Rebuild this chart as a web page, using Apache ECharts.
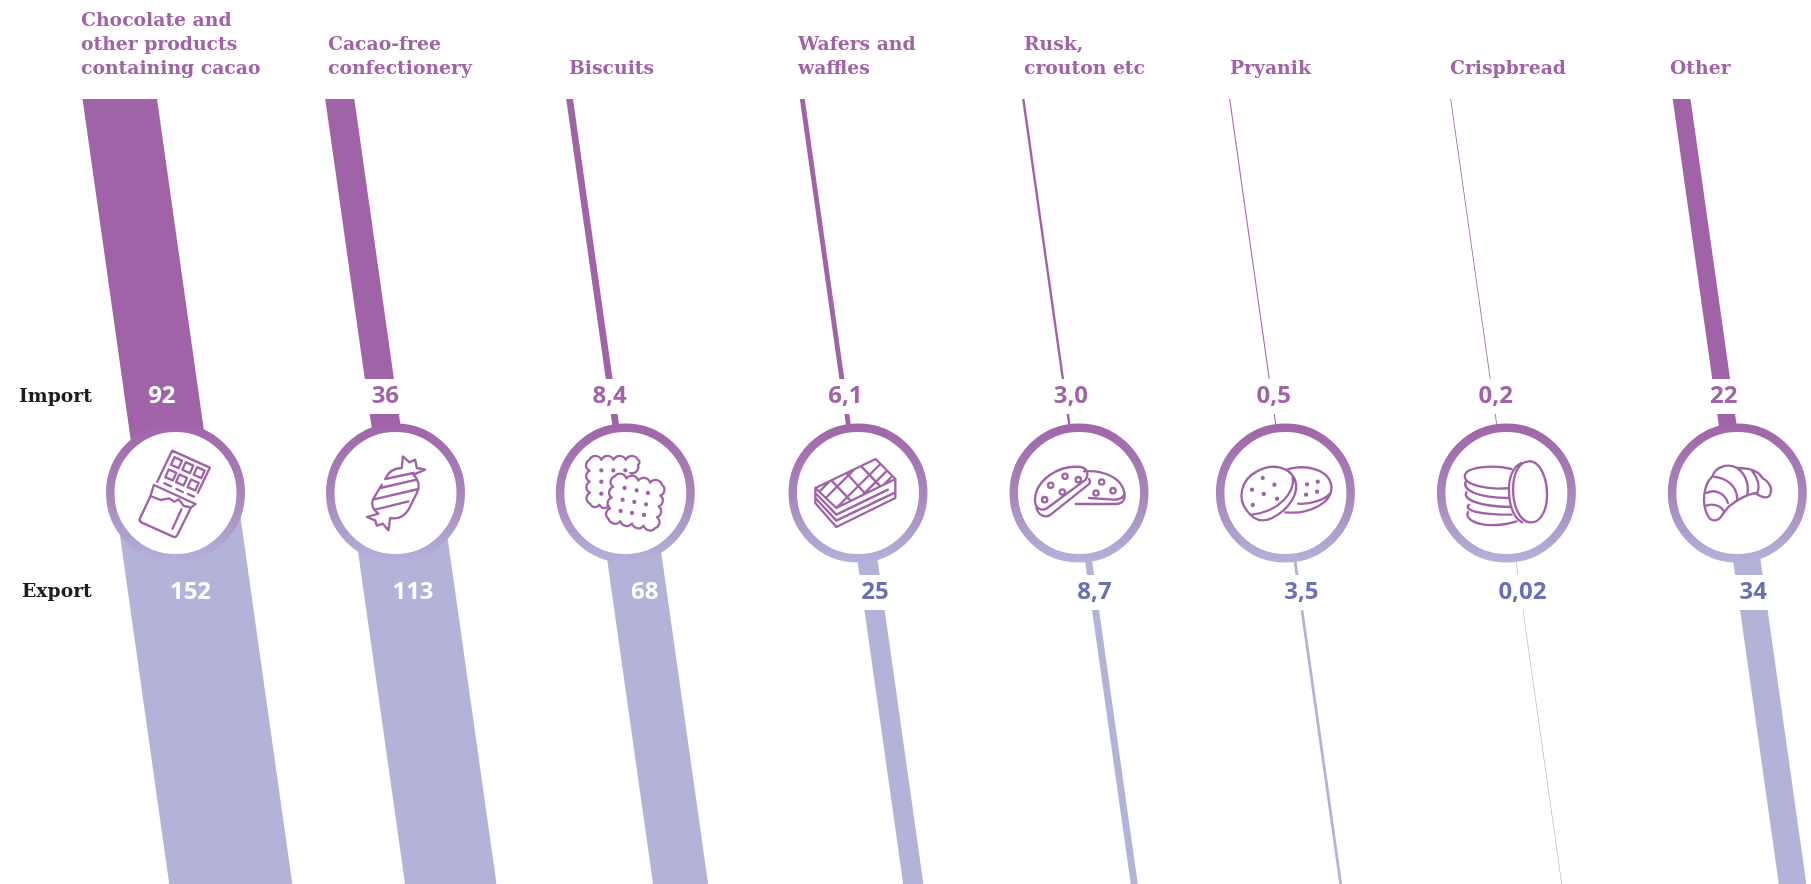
<!DOCTYPE html>
<html>
<head>
<meta charset="utf-8">
<style>html,body{margin:0;padding:0;background:#fff}#c{width:1811px;height:884px}</style>
<script src="https://cdn.jsdelivr.net/npm/echarts@6/dist/echarts.min.js"></script>
</head>
<body>
<div id="c"></div>
<script>
// ---- data ----
const categories = ['Chocolate and\nother products\ncontaining cacao','Cacao-free\nconfectionery','Biscuits','Wafers and\nwaffles','Rusk,\ncrouton etc','Pryanik','Crispbread','Other'];
const importValues = [92,36,8.4,6.1,3.0,0.5,0.2,22];
const exportValues = [152,113,68,25,8.7,3.5,0.02,34];
const importLabels = ['92','36','8,4','6,1','3,0','0,5','0,2','22'];
const exportLabels = ['152','113','68','25','8,7','3,5','0,02','34'];
const rowNames = ['Import','Export'];

// ---- layout ----
const W = 1811, H = 884, PX_PER_UNIT = 0.81;
const centerX = [175.5,395.5,625.3,858,1079,1285.4,1506.4,1737.3];
const headingX = [81,328,569,798,1024,1230,1450,1670];
const importNudge = [0,3.5,-2,1,5.5,2,3,0];
const exportNudge = [1,3.5,5.5,3,1.5,2,2,2];
const CY = 493, TOP = 99, SLOPE = 0.1414, R_OUT = 69.5, R_IN = 61;
const IMP_Y = 396.5, EXP_Y = 592;
const PURPLE = '#a163a8', LILAC = '#b3b3da', BLUE = '#6a70b6', INK = '#1d1d1b';
const SERIF = '"DejaVu Serif"', SANS = '"Noto Sans"';

// ---- icons: outlines in 3x crop coordinates, [originX, originY, path] ----
function scallop(pts, n, sweep) {
  let d = '';
  for (let s = 0; s < pts.length - 1; s++) {
    const a = pts[s], b = pts[s + 1], m = Array.isArray(n) ? n[s] : n;
    if (s === 0) d += 'M' + a[0] + ' ' + a[1];
    const r = Math.hypot(b[0]-a[0], b[1]-a[1]) / m * 0.56;
    for (let k = 1; k <= m; k++) {
      d += 'A' + r + ' ' + r + ' 0 0 ' + sweep + ' ' + (a[0]+(b[0]-a[0])*k/m) + ' ' + (a[1]+(b[1]-a[1])*k/m);
    }
  }
  return d;
}
function dots(list, r) {
  return list.map(p => 'M' + (p[0]-r) + ' ' + p[1] + 'A' + r + ' ' + r + ' 0 1 0 ' + (p[0]+r) + ' ' + p[1] + 'A' + r + ' ' + r + ' 0 1 0 ' + (p[0]-r) + ' ' + p[1]).join('');
}
function tiltRect(cx, cy, s, ang) {
  const c = Math.cos(ang)*s/2, n = Math.sin(ang)*s/2;
  return 'M'+(cx-c+n)+' '+(cy-n-c)+'L'+(cx+c+n)+' '+(cy+n-c)+'L'+(cx+c-n)+' '+(cy+n+c)+'L'+(cx-c-n)+' '+(cy-n+c)+'Z';
}
const icons = [
 [225,219,
  'M170 185L215 92L328 143L292 218'+
  [[228,128],[262,143],[296,158],[211,165],[243,180],[278,195]].map(p=>tiltRect(p[0],p[1],25,0.42)).join('')+
  'M192 190L212 199M228 207L247 216M262 222L280 230'+
  'M160 195L285 252L272 262L250 258L235 238L222 245L205 235L180 240L150 228Z'+
  'M150 228L118 296Q115 304 124 308L218 350Q226 354 230 346L272 262'+
  'M243 268L216 326'],
 [1186,400,
  'M1155 358Q1170 325 1205 325L1208 290L1228 308L1245 300L1250 325L1275 330L1240 345Q1265 370 1250 400L1225 450Q1205 482 1170 475L1165 512L1148 492L1130 498L1125 482L1100 472L1135 462Q1110 445 1118 420L1145 375'+
  'M1140 385L1250 360M1118 420L1255 388M1125 450L1225 425M1155 358L1240 340'],
 [150,150,
  scallop([[165,90],[188,65],[188,50],[42,50],[44,182],[100,188]],[1,1,4,4,2],0)+
  scallop([[118,100],[260,125],[240,255],[100,228],[118,100]],[4,4,4,4],1)+
  dots([[78,82],[114,82],[150,82],[78,116],[78,152],[148,135],[184,142],[218,150],[142,170],[177,177],[212,184],[136,204],[170,210],[206,216]],3)],
 [150,150,
  'M22 135L203 48L262 108L85 195Z'+
  'M22 135L22 180L85 252L262 165L262 108'+
  'M22 150L85 215L240 140M22 165L85 233L262 148'+
  'M70 112L127 172M115 90L170 150M160 70L215 128'+
  'M34 146L66 114M53 165L139 79M85 195L217 63M163 157L237 83M226 126L253 99'],
 [150,150,
  'M18 170C20 110 90 65 155 72C175 75 180 95 170 110L55 195C40 205 18 200 18 170Z'+
  'M180 108C186 118 182 122 178 125L65 215C50 225 30 220 22 195'+
  'M165 85C215 80 285 100 287 160C287 175 275 183 260 183L140 183'+
  'M180 165L255 170C275 170 285 165 287 150'+
  dots([[65,127],[108,100],[148,110],[100,147],[47,170],[218,117],[252,143],[201,150]],8)],
 [150,150,
  'M36 205C5 170 15 110 65 85C110 60 160 70 178 108C195 150 160 200 110 225C80 240 55 230 36 205Z'+
  'M172 100C180 150 130 205 50 215'+
  'M155 80C190 65 280 70 288 130C292 180 220 215 150 208'+
  'M188 182C225 185 270 170 285 150'+
  dots([[82,105],[117,125],[50,140],[85,153],[125,167],[52,186],[215,124],[247,116],[212,155],[245,146]],3)],
 [150,150,
  'M215 55C250 50 272 105 272 155C272 205 250 242 220 238C190 235 170 190 170 140C170 95 185 58 215 55Z'+
  'M195 60C170 70 155 105 158 150C160 195 175 228 198 238'+
  'M165 78C110 65 25 70 25 100C25 125 90 142 158 135'+
  'M28 115C18 140 60 165 158 165M30 148C18 170 70 190 160 192'+
  'M38 185C20 200 60 215 165 215M35 207C20 235 90 262 180 235'],
 [150,150,
  'M75 100C85 70 120 60 150 75C185 75 215 85 225 105C245 115 255 135 250 150C245 170 225 165 205 150C175 155 150 170 125 190L105 215C95 235 70 240 60 215C45 185 45 130 75 100Z'+
  'M75 100C120 105 150 130 150 170M150 75C175 95 185 125 180 155M195 85C215 110 218 130 210 150'+
  'M58 150C85 135 115 155 122 180M52 190C70 180 100 185 110 205']
];

const chart = echarts.init(document.getElementById('c'), null, {renderer: 'canvas'});

function renderItem(params, api) {
  const i = api.value(0);
  const imp = api.value(1), exp = api.value(2);
  const P = api.coord([centerX[i] / PX_PER_UNIT, CY]);
  const cx = P[0], cy = P[1];
  const xAt = y => cx + (y - cy) * SLOPE;
  const thick = v => { const w = api.size([v, 0])[0]; return w < 2 ? w + 0.65 : w; };
  const band = (w, y0, y1, fill) => ({
    type: 'polygon', silent: true,
    shape: {points: [[xAt(y0)-w/2,y0],[xAt(y0)+w/2,y0],[xAt(y1)+w/2,y1],[xAt(y1)-w/2,y1]]},
    style: {fill}
  });
  const yTop = api.coord([0, TOP])[1], yBot = api.coord([0, H])[1];
  const children = [];
  const wi = thick(imp), we = thick(exp);
  if (imp >= 50) children.push(band(wi, yTop, cy, PURPLE));
  else { children.push(band(wi, yTop, 379, PURPLE)); children.push(band(wi, 414, cy, PURPLE)); }
  if (exp >= 50) children.push(band(we, cy, yBot, LILAC));
  else { children.push(band(we, cy, 575, LILAC)); children.push(band(we, 610, yBot, LILAC)); }
  children.push({type:'circle', silent:true, shape:{cx, cy, r:(R_OUT+R_IN)/2},
    style:{fill:'#fff', lineWidth:R_OUT-R_IN,
      stroke:{type:'linear',x:0,y:0,x2:0,y2:1,colorStops:[
        {offset:0,color:'#a064a8'},{offset:.5,color:'#a884bc'},{offset:1,color:'#b3b2da'}]}}});
  const ic = icons[i];
  children.push({type:'path', silent:true, shape:{pathData:ic[2]},
    x: cx - ic[0]/3, y: cy - ic[1]/3, scaleX:1/3, scaleY:1/3,
    style:{fill:'none', stroke:PURPLE, lineWidth:7, lineJoin:'round', lineCap:'round'}});
  const num = (text, x, y, color) => ({type:'text', silent:true,
    style:{text, x, y, fill:color, align:'center', verticalAlign:'middle',
      font:'700 24px '+SANS}});
  children.push(num(importLabels[i], xAt(IMP_Y)+importNudge[i], IMP_Y, imp >= 50 ? '#fff' : PURPLE));
  children.push(num(exportLabels[i], xAt(EXP_Y)+exportNudge[i], EXP_Y, exp >= 50 ? '#fff' : BLUE));
  children.push({type:'text', silent:true,
    style:{text:categories[i], x:headingX[i], y:81, fill:PURPLE, align:'left', verticalAlign:'bottom',
      font:'700 18.8px '+SERIF, lineHeight:24}});
  return {type:'group', children};
}

chart.setOption({
  animation: false,
  backgroundColor: '#fff',
  grid: {left:0, right:0, top:0, bottom:0},
  xAxis: {type:'value', min:0, max:W/PX_PER_UNIT, show:false},
  yAxis: {type:'value', min:0, max:H, inverse:true, show:false},
  graphic: [
    {type:'text', left:19, top:388, style:{text:rowNames[0], fill:INK, font:'700 18.8px '+SERIF}},
    {type:'text', left:22, top:583, style:{text:rowNames[1], fill:INK, font:'700 18.8px '+SERIF}}
  ],
  series: [{
    type:'custom', clip:false, silent:true, renderItem,
    data: categories.map((c,i)=>[i, importValues[i], exportValues[i]])
  }]
});
</script>
</body>
</html>
